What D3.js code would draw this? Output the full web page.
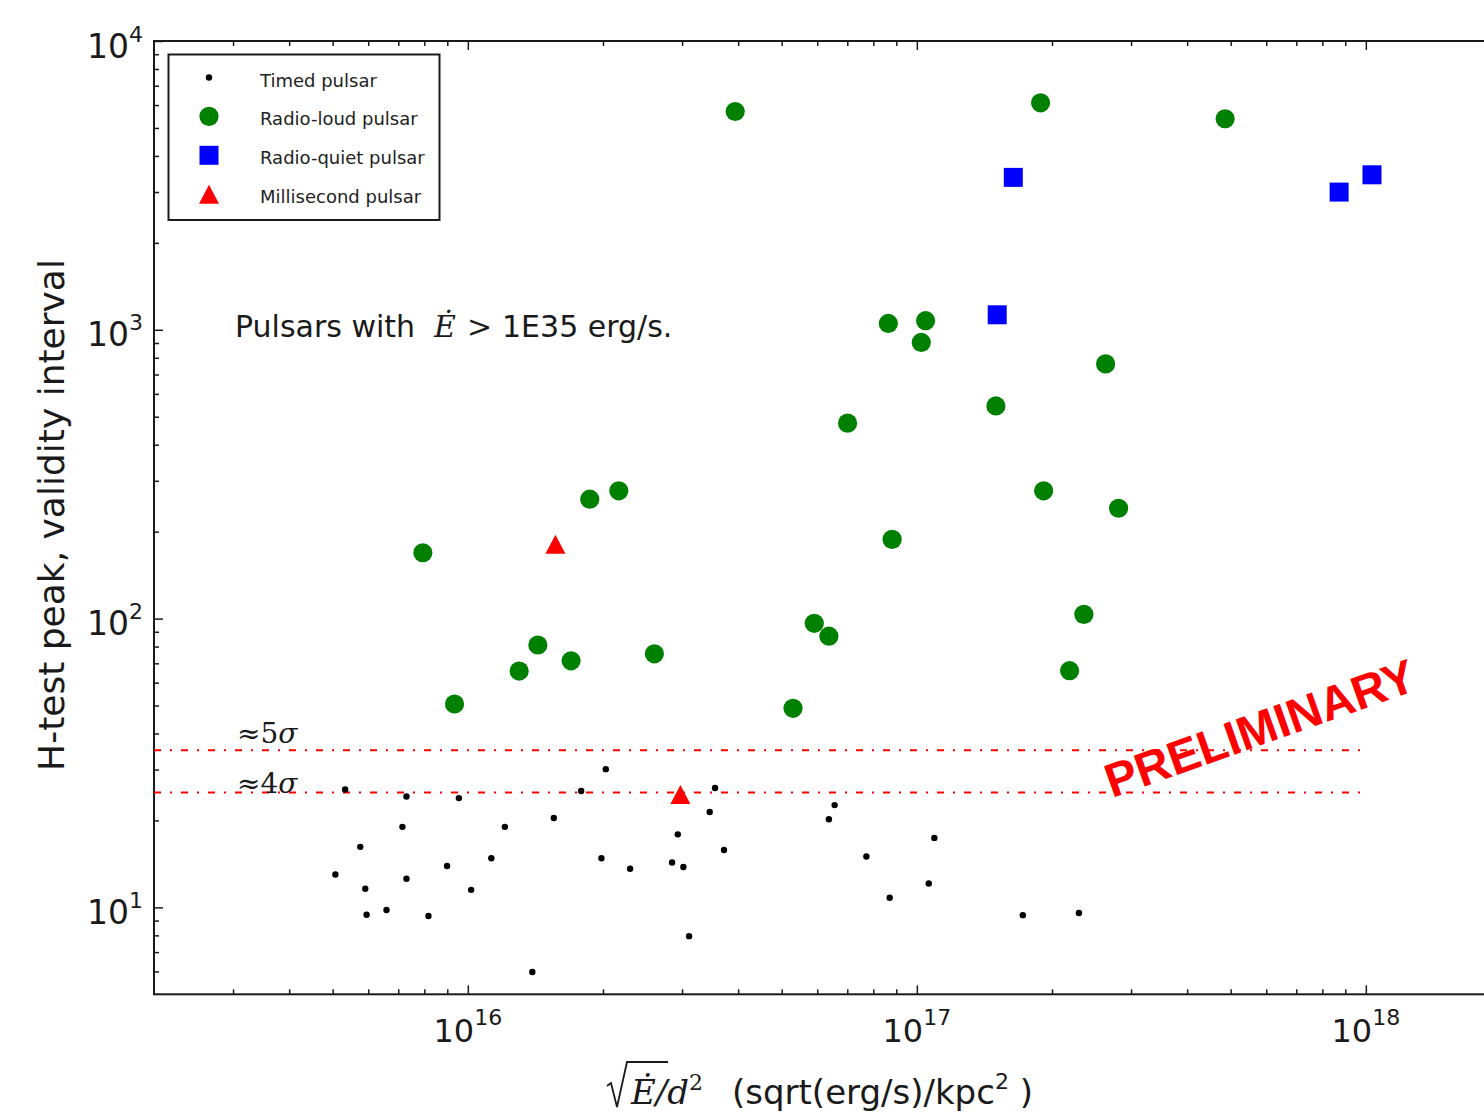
<!DOCTYPE html>
<html>
<head>
<meta charset="utf-8">
<script src="https://cdn.jsdelivr.net/npm/d3@7"></script>
<style>
body { margin: 0; background: #fff; }
svg { display: block; font-family: "DejaVu Sans", sans-serif; }
</style>
</head>
<body>
<div id="chart"></div>
<script>
// Timed pulsars (small black dots)
var timedX = [5.33e15, 5.07e15, 5.76e15, 5.91e15, 5.95e15, 6.59e15, 7.15e15, 7.30e15, 7.30e15,
    8.17e15, 8.99e15, 9.55e15, 1.017e16, 1.128e16, 1.209e16, 1.392e16, 1.554e16, 1.788e16,
    1.984e16, 2.029e16, 2.298e16, 2.85e16, 2.935e16, 3.02e16, 3.11e16, 3.457e16, 3.553e16,
    3.72e16, 6.37e16, 6.56e16, 7.72e16, 8.70e16, 1.063e17, 1.094e17, 1.722e17, 2.296e17]
var timedY = [25.6, 13.0, 16.2, 11.6, 9.43, 9.79, 19.0, 24.2, 12.56,
    9.33, 13.9, 23.9, 11.5, 14.8, 19.0, 5.97, 20.4, 25.3,
    14.8, 30.1, 13.6, 14.3, 17.9, 13.8, 7.95, 21.4, 25.9,
    15.8, 20.2, 22.6, 15.0, 10.8, 12.1, 17.4, 9.4, 9.56]

// Radio-loud pulsars (green circles)
var loudX = [3.94e16, 1.886e17, 4.86e17, 8.64e16, 1.046e17, 1.023e17, 2.633e17, 1.50e17, 7.01e16,
    1.869e16, 2.169e16, 1.916e17, 2.814e17, 7.94e15, 8.81e16, 1.432e16, 1.698e16, 1.301e16,
    2.603e16, 5.91e16, 6.37e16, 2.355e17, 2.189e17, 9.34e15, 5.30e16]
var loudY = [5700, 6110, 5380, 1052, 1075, 904, 762, 545, 475,
    259, 277, 277, 241, 169, 188, 81, 71.4, 65.8,
    75.5, 96.3, 86.9, 103.4, 66, 50.6, 48.9]

// Radio-quiet pulsars (blue squares)
var quietX = [1.64e17, 1.51e17, 8.72e17, 1.032e18]
var quietY = [3371, 1127, 2998, 3441]

// Millisecond pulsars (red triangles)
var mspX = [1.567e16, 2.974e16]
var mspY = [180.8, 24.6]

// significance thresholds
var sigmaLevels = [35, 25]
var sigmaNames = ['5', '4']
var sigmaLineEnd = 1e18

var xTickExps = [16, 17, 18]
var yTickExps = [1, 2, 3, 4]
var legendLabels = ['Timed pulsar', 'Radio-loud pulsar', 'Radio-quiet pulsar', 'Millisecond pulsar']

var width = 1484, height = 1116
// plot box (note: "top" is taken by window.top, so prefix these)
var pLeft = 154, pRight = 1501, pTop = 41, pBottom = 994.3
var ink = '#1a1a1a'

var svg = d3.select('#chart').append('svg')
    .attr('width', width)
    .attr('height', height)
svg.append('rect').attr('width', width).attr('height', height).attr('fill', '#fff')

var x = d3.scaleLog().domain([2e15, 2e18]).range([pLeft, pRight])
var y = d3.scaleLog().domain([5, 1e4]).range([pBottom, pTop])

// minor tick values 2..9 x 10^k inside each domain
function minors(domain) {
    var out = []
    for (var k = -1; k < 20; k++) {
        for (var m = 2; m <= 9; m++) {
            var v = m * Math.pow(10, k)
            if (v > domain[0] * 1.0001 && v < domain[1] * 0.9999) out.push(v)
        }
    }
    return out
}
var xMajor = xTickExps.map(e => Math.pow(10, e))
var yMajor = yTickExps.map(e => Math.pow(10, e))

var tickLayer = svg.append('g')
function ticks(axis, transform) {
    tickLayer.append('g').attr('transform', transform).call(axis)
        .call(g => g.select('.domain').remove())
        .call(g => g.selectAll('line').attr('stroke', ink).attr('stroke-width', 1.5))
        .call(g => g.selectAll('text').remove())
}
// ticks point inward on all four sides
ticks(d3.axisBottom(x).tickValues(xMajor).tickSize(-9), `translate(0,${pBottom})`)
ticks(d3.axisBottom(x).tickValues(minors(x.domain())).tickSize(-5), `translate(0,${pBottom})`)
ticks(d3.axisTop(x).tickValues(xMajor).tickSize(-9), `translate(0,${pTop})`)
ticks(d3.axisTop(x).tickValues(minors(x.domain())).tickSize(-5), `translate(0,${pTop})`)
ticks(d3.axisLeft(y).tickValues(yMajor).tickSize(-9), `translate(${pLeft},0)`)
ticks(d3.axisLeft(y).tickValues(minors(y.domain())).tickSize(-5), `translate(${pLeft},0)`)
ticks(d3.axisRight(y).tickValues(yMajor).tickSize(-9), `translate(${pRight},0)`)
ticks(d3.axisRight(y).tickValues(minors(y.domain())).tickSize(-5), `translate(${pRight},0)`)

// frame
svg.append('rect')
    .attr('x', pLeft).attr('y', pTop)
    .attr('width', pRight - pLeft).attr('height', pBottom - pTop)
    .attr('fill', 'none').attr('stroke', ink).attr('stroke-width', 2)

// tick labels, 10^k
xTickExps.forEach(e => {
    var t = svg.append('text')
        .attr('x', x(Math.pow(10, e))).attr('y', 1042)
        .attr('text-anchor', 'middle').attr('font-size', 32).attr('fill', ink)
    t.append('tspan').text('10')
    t.append('tspan').attr('font-size', 22).attr('dy', -17).text(e)
})
yTickExps.forEach(e => {
    var t = svg.append('text')
        .attr('x', 143).attr('y', y(Math.pow(10, e)) + 16.5)
        .attr('text-anchor', 'end').attr('font-size', 33).attr('fill', ink)
    t.append('tspan').text('10')
    t.append('tspan').attr('font-size', 22).attr('dy', -16).text(e)
})

// axis titles
svg.append('text')
    .attr('transform', 'translate(63.5,515) rotate(-90)')
    .attr('text-anchor', 'middle').attr('font-size', 36).attr('fill', ink)
    .text('H-test peak, validity interval')

var xl = svg.append('g')
var base = 1104
xl.append('path')
    .attr('d', `M607,${base - 18} L611,${base - 21} L617,${base + 3} L627,${base - 42} L668,${base - 42}`)
    .attr('fill', 'none').attr('stroke', ink).attr('stroke-width', 1.8)
var xt = xl.append('text').attr('y', base).attr('font-size', 34).attr('fill', ink)
xt.append('tspan').attr('x', 631).attr('font-family', '"DejaVu Serif", serif')
    .attr('font-style', 'italic').text('Ė/d')
xt.append('tspan').attr('font-family', '"DejaVu Serif", serif').attr('font-size', 22)
    .attr('dy', -14).text('2')
xt.append('tspan').attr('x', 732).attr('dy', 14).text('(sqrt(erg/s)/kpc')
xt.append('tspan').attr('font-size', 22).attr('dy', -15).text('2')
xt.append('tspan').attr('dy', 15).text('\u00a0)')

// annotation
var ann = svg.append('text').attr('y', 337).attr('font-size', 30).attr('fill', ink)
ann.append('tspan').attr('x', 235).text('Pulsars with')
ann.append('tspan').attr('x', 434).attr('font-family', '"DejaVu Serif", serif')
    .attr('font-style', 'italic').text('Ė')
ann.append('tspan').attr('x', 467).attr('font-family', '"DejaVu Serif", serif').text('>')
ann.append('tspan').attr('x', 502).text('1E35 erg/s.')

// sigma lines
svg.append('g').selectAll('line')
    .data(sigmaLevels)
    .enter().append('line')
    .attr('x1', x(x.domain()[0])).attr('x2', x(sigmaLineEnd))
    .attr('y1', d => y(d)).attr('y2', d => y(d))
    .attr('stroke', '#ff0000').attr('stroke-width', 2)
    .attr('stroke-dasharray', '7,9,2,9')

var sigmaTextShift = [-7, 1]
svg.append('g').selectAll('text')
    .data(sigmaLevels)
    .enter().append('text')
    .attr('x', 237).attr('y', (d, i) => y(d) + sigmaTextShift[i])
    .attr('font-family', '"DejaVu Serif", serif').attr('font-size', 28).attr('fill', ink)
    .each(function(d, i) {
        var t = d3.select(this)
        t.append('tspan').text('≈' + sigmaNames[i])
        t.append('tspan').attr('font-style', 'italic').text('σ')
    })

// markers
function pairs(xs, ys) { return xs.map((v, i) => ({ x: v, y: ys[i] })) }

svg.append('g').selectAll('circle')
    .data(pairs(timedX, timedY))
    .enter().append('circle')
    .attr('cx', d => x(d.x)).attr('cy', d => y(d.y)).attr('r', 3.2)
    .attr('fill', '#000')

svg.append('g').selectAll('circle')
    .data(pairs(loudX, loudY))
    .enter().append('circle')
    .attr('cx', d => x(d.x)).attr('cy', d => y(d.y)).attr('r', 9.6)
    .attr('fill', '#008000')

svg.append('g').selectAll('rect')
    .data(pairs(quietX, quietY))
    .enter().append('rect')
    .attr('x', d => x(d.x) - 9.5).attr('y', d => y(d.y) - 9.5)
    .attr('width', 19).attr('height', 19)
    .attr('fill', '#0000ff')

var tri = 'M0,-9.5L10,9.5L-10,9.5Z'
svg.append('g').selectAll('path')
    .data(pairs(mspX, mspY))
    .enter().append('path')
    .attr('transform', d => `translate(${x(d.x)},${y(d.y)})`)
    .attr('d', tri)
    .attr('fill', '#ff0000')

// PRELIMINARY stamp
svg.append('text')
    .attr('transform', 'translate(1112,798) rotate(-19.5)')
    .attr('font-family', '"Liberation Sans", Arial, sans-serif')
    .attr('font-weight', 'bold').attr('font-size', 47.5)
    .attr('fill', '#ff0000')
    .text('PRELIMINARY')

// legend
var legend = svg.append('g')
legend.append('rect')
    .attr('x', 168.5).attr('y', 54.5).attr('width', 271).attr('height', 165.5)
    .attr('fill', '#fff').attr('stroke', ink).attr('stroke-width', 2)

var rows = legend.selectAll('g.row')
    .data(legendLabels)
    .enter().append('g')
    .attr('class', 'row')
    .attr('transform', (d, i) => `translate(209,${77.5 + i * 38.9})`)
rows.append('text')
    .attr('x', 51).attr('y', 9)
    .attr('font-size', 18).attr('fill', '#222')
    .text(d => d)
rows.each(function(d, i) {
    var g = d3.select(this)
    if (i === 0) g.append('circle').attr('r', 3.2).attr('fill', '#000')
    if (i === 1) g.append('circle').attr('r', 9.6).attr('fill', '#008000')
    if (i === 2) g.append('rect').attr('x', -9.5).attr('y', -9.5).attr('width', 19).attr('height', 19).attr('fill', '#0000ff')
    if (i === 3) g.append('path').attr('d', tri).attr('fill', '#ff0000')
})
</script>
</body>
</html>
